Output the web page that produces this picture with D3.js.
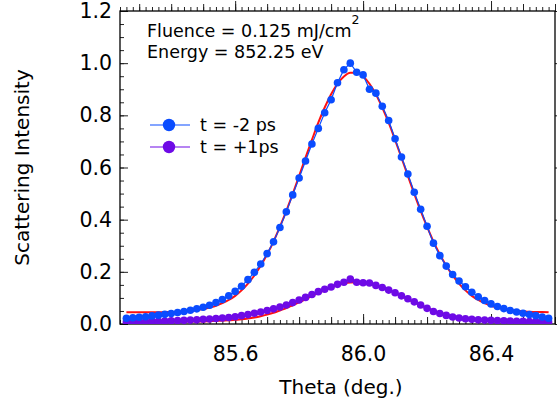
<!DOCTYPE html>
<html>
<head>
<meta charset="utf-8">
<script src="https://cdn.jsdelivr.net/npm/d3@7"></script>
<style>
  body { margin: 0; background: #fff; }
  text { font-family: "DejaVu Sans", sans-serif; fill: #000; }
</style>
</head>
<body>
<svg id="chart" width="557" height="408"></svg>
<script>
// theta grid (deg)
var theta = [85.26, 85.28, 85.30, 85.32, 85.34, 85.36, 85.38, 85.40, 85.42, 85.44,
  85.46, 85.48, 85.50, 85.52, 85.54, 85.56, 85.58, 85.60, 85.62, 85.64,
  85.66, 85.68, 85.70, 85.72, 85.74, 85.76, 85.78, 85.80, 85.82, 85.84,
  85.86, 85.88, 85.90, 85.92, 85.94, 85.96, 85.98, 86.00, 86.02, 86.04,
  86.06, 86.08, 86.10, 86.12, 86.14, 86.16, 86.18, 86.20, 86.22, 86.24,
  86.26, 86.28, 86.30, 86.32, 86.34, 86.36, 86.38, 86.40, 86.42, 86.44,
  86.46, 86.48, 86.50, 86.52, 86.54, 86.56, 86.58];

// t = -2 ps
var before = [0.022, 0.024, 0.026, 0.028, 0.031, 0.034, 0.037, 0.040, 0.044, 0.048,
  0.053, 0.058, 0.064, 0.072, 0.082, 0.094, 0.108, 0.125, 0.145, 0.170,
  0.198, 0.230, 0.270, 0.315, 0.370, 0.430, 0.495, 0.560, 0.625, 0.690,
  0.750, 0.810, 0.860, 0.925, 0.975, 1.000, 0.965, 0.955, 0.900, 0.885,
  0.835, 0.780, 0.710, 0.640, 0.575, 0.505, 0.440, 0.375, 0.310, 0.262,
  0.222, 0.190, 0.165, 0.143, 0.122, 0.104, 0.090, 0.077, 0.067, 0.059,
  0.052, 0.046, 0.041, 0.036, 0.032, 0.027, 0.022];

// t = +1 ps
var after = [0.008, 0.008, 0.009, 0.009, 0.010, 0.010, 0.011, 0.012, 0.013, 0.014,
  0.015, 0.016, 0.018, 0.019, 0.021, 0.023, 0.025, 0.028, 0.032, 0.036,
  0.041, 0.046, 0.052, 0.058, 0.065, 0.073, 0.082, 0.092, 0.102, 0.113,
  0.124, 0.133, 0.142, 0.152, 0.160, 0.172, 0.160, 0.158, 0.157, 0.148,
  0.140, 0.130, 0.120, 0.108, 0.097, 0.085, 0.073, 0.060, 0.048, 0.040,
  0.033, 0.027, 0.023, 0.020, 0.018, 0.016, 0.015, 0.014, 0.013, 0.012,
  0.011, 0.010, 0.010, 0.009, 0.009, 0.008, 0.008];

// fits (red)
var fitBefore = [0.045, 0.045, 0.045, 0.045, 0.045, 0.045, 0.046, 0.046, 0.047, 0.049,
  0.051, 0.053, 0.057, 0.063, 0.070, 0.080, 0.092, 0.108, 0.129, 0.155,
  0.186, 0.223, 0.267, 0.316, 0.373, 0.434, 0.499, 0.568, 0.638, 0.706,
  0.772, 0.830, 0.881, 0.921, 0.949, 0.963, 0.963, 0.949, 0.921, 0.881,
  0.830, 0.772, 0.706, 0.638, 0.568, 0.499, 0.434, 0.373, 0.316, 0.267,
  0.223, 0.186, 0.155, 0.129, 0.108, 0.092, 0.080, 0.070, 0.063, 0.057,
  0.053, 0.051, 0.049, 0.047, 0.046, 0.046, 0.045];

var fitAfter = [0.010, 0.010, 0.010, 0.010, 0.010, 0.010, 0.010, 0.010, 0.010, 0.010,
  0.010, 0.010, 0.010, 0.011, 0.012, 0.013, 0.014, 0.016, 0.018, 0.021,
  0.025, 0.030, 0.036, 0.043, 0.052, 0.061, 0.072, 0.083, 0.095, 0.107,
  0.119, 0.130, 0.140, 0.148, 0.155, 0.159, 0.160, 0.159, 0.155, 0.148,
  0.140, 0.130, 0.119, 0.107, 0.095, 0.083, 0.072, 0.061, 0.052, 0.043,
  0.036, 0.030, 0.025, 0.021, 0.018, 0.016, 0.014, 0.013, 0.012, 0.011,
  0.010, 0.010, 0.010, 0.010, 0.010, 0.010, 0.010];

var xLabels = [85.6, 86.0, 86.4];
var yLabels = [0.0, 0.2, 0.4, 0.6, 0.8, 1.0, 1.2];
var seriesNames = ["t = -2 ps", "t = +1ps"];
var blue = "#0a4cff", purple = "#6e0ae6", red = "#ff1010";

var svg = d3.select("#chart"),
    margin = {top: 11, right: 2, bottom: 84, left: 120},
    width = 557 - margin.left - margin.right,
    height = 408 - margin.top - margin.bottom;
var g = svg.append("g").attr("transform", "translate(" + margin.left + "," + margin.top + ")");

var xScale = d3.scaleLinear().domain([85.24, 86.60]).range([0, width]);
var yScale = d3.scaleLinear().domain([0, 1.2]).range([height, 0]);

// ticks, all pointing inward
function xTicks(step) { return d3.range(85.24, 86.601, step).map(function(v){ return +v.toFixed(2); }); }
function yTicks(step) { return d3.range(0, 1.2001, step).map(function(v){ return +v.toFixed(2); }); }

var minorX = xTicks(0.02), midX = d3.range(85.3, 86.601, 0.1).map(function(v){ return +v.toFixed(1); });
var minorY = yTicks(0.05);

function tickAxis(axis, vals, len, fmt) {
  return axis.tickValues(vals).tickSize(-len).tickSizeOuter(0).tickPadding(8).tickFormat(fmt || "");
}

[["bottom", height], ["top", 0]].forEach(function(p) {
  var mk = p[0] == "bottom" ? d3.axisBottom : d3.axisTop;
  var sign = p[0] == "bottom" ? 1 : -1;
  g.append("g").attr("class", "axis").attr("transform", "translate(0," + p[1] + ")")
    .call(tickAxis(mk(xScale), minorX, 4 * sign));
  g.append("g").attr("class", "axis").attr("transform", "translate(0," + p[1] + ")")
    .call(tickAxis(mk(xScale), midX, 7 * sign));
  g.append("g").attr("class", "axis " + (p[0] == "bottom" ? "xlab" : ""))
    .attr("transform", "translate(0," + p[1] + ")")
    .call(tickAxis(mk(xScale), xLabels, 10 * sign, p[0] == "bottom" ? d3.format(".1f") : ""));
});

// left: minor + labelled major ticks; right: major ticks only
g.append("g").attr("class", "axis").call(tickAxis(d3.axisLeft(yScale), minorY, 4));
g.append("g").attr("class", "axis ylab").call(tickAxis(d3.axisLeft(yScale), yLabels, 8, d3.format(".1f")));
g.append("g").attr("class", "axis").attr("transform", "translate(" + width + ",0)")
  .call(tickAxis(d3.axisRight(yScale), yLabels, -7));

g.selectAll(".axis .domain").remove();
g.selectAll(".axis line").attr("stroke", "#222").attr("stroke-width", 1);
g.selectAll(".xlab text").style("font-size", "20.5px").attr("dy", "1.4em");
g.selectAll(".ylab text").style("font-size", "20.5px");

g.append("rect").attr("width", width).attr("height", height)
  .attr("fill", "none").attr("stroke", "#000").attr("stroke-width", 1.3);

// clip for data
svg.append("clipPath").attr("id", "clip").append("rect")
  .attr("width", width).attr("height", height);
var plot = g.append("g").attr("clip-path", "url(#clip)");

var lineOf = function(vals) {
  return d3.line().x(function(d, i){ return xScale(theta[i]); })
    .y(function(d){ return yScale(d); })(vals);
};
var fitLine = function(vals) {
  return d3.line().curve(d3.curveMonotoneX)
    .x(function(d, i){ return xScale(theta[i]); })
    .y(function(d){ return yScale(d); })(vals);
};

function series(vals, color) {
  plot.append("path").attr("d", lineOf(vals)).attr("fill", "none")
    .attr("stroke", color).attr("stroke-width", 1.2);
  plot.selectAll(null).data(vals).enter().append("circle")
    .attr("cx", function(d, i){ return xScale(theta[i]); })
    .attr("cy", function(d){ return yScale(d); })
    .attr("r", 3.8).attr("fill", color);
}

plot.append("path").attr("d", fitLine(fitAfter)).attr("fill", "none")
  .attr("stroke", red).attr("stroke-width", 2);
series(after, purple);
plot.append("path").attr("d", fitLine(fitBefore)).attr("fill", "none")
  .attr("stroke", red).attr("stroke-width", 2);
series(before, blue);

// annotation
var note = g.append("text").attr("x", 27).attr("y", 26).style("font-size", "17.5px");
note.append("tspan").text("Fluence = 0.125 mJ/cm");
note.append("tspan").attr("dy", -13).style("font-size", "12.5px").text("2");
g.append("text").attr("x", 27).attr("y", 47).style("font-size", "17.5px").text("Energy = 852.25 eV");

// legend
var legend = g.selectAll(".leg").data(seriesNames).enter().append("g")
  .attr("transform", function(d, i){ return "translate(30," + (114 + i * 22) + ")"; });
legend.append("line").attr("x1", 0).attr("x2", 40)
  .attr("stroke", function(d, i){ return i ? purple : blue; }).attr("stroke-width", 1.2);
legend.append("circle").attr("cx", 19).attr("r", 6.2)
  .attr("fill", function(d, i){ return i ? purple : blue; });
legend.append("text").attr("x", 50).attr("dy", "0.35em").style("font-size", "17.5px")
  .text(function(d){ return d; });

// axis titles
svg.append("text").attr("x", 341).attr("y", 394)
  .attr("text-anchor", "middle").style("font-size", "20px").text("Theta (deg.)");
svg.append("text").attr("transform", "translate(29," + (margin.top + height / 2) + ") rotate(-90)")
  .attr("text-anchor", "middle").style("font-size", "20px").text("Scattering Intensity");
</script>
</body>
</html>
